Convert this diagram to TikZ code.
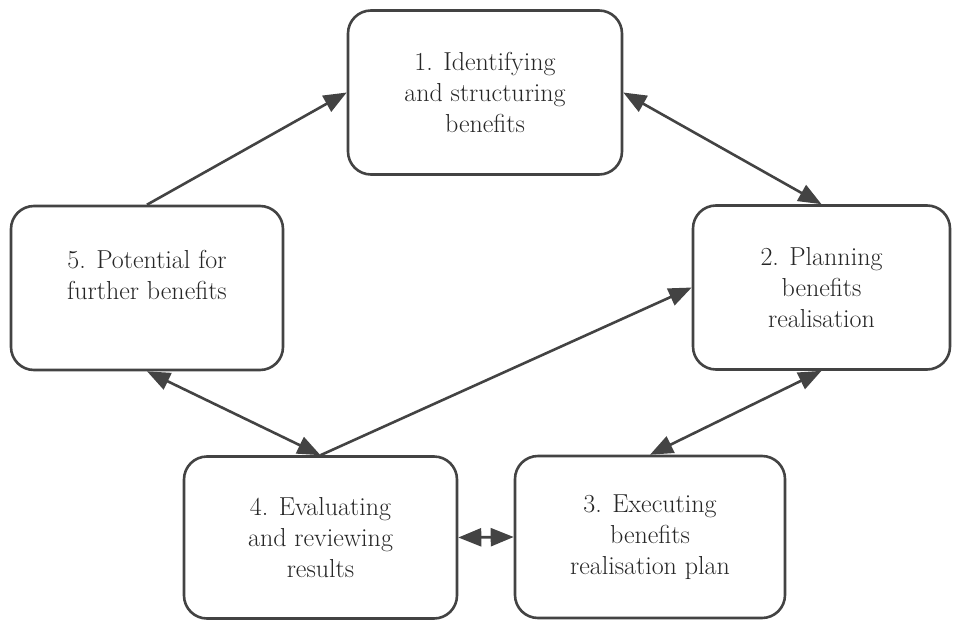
\documentclass[tikz,border=0pt]{standalone}
\usepackage{fontspec}
\usetikzlibrary{arrows.meta}
\definecolor{Edge}{HTML}{434343}
\definecolor{Ink}{HTML}{262626}

\begin{document}
\begin{tikzpicture}[x=1pt, y=-1pt,
    stage/.style={draw=Edge, line width=2.6pt, rounded corners=23pt, fill=white, text=Ink, align=center, inner sep=0pt, minimum height=164pt, font=\fontsize{26}{31}\selectfont},
    link/.style={draw=Edge, line width=2.6pt},
    >={Triangle[length=23pt, width=18pt]}]
            \useasboundingbox (0,0) rectangle (953,621);

            \node[stage, minimum width=274pt] (identify) at (485,92.5) {1. Identifying\\and structuring\\benefits};
            \node[stage, minimum width=257pt] (plan) at (821.5,287.5) {2. Planning\\benefits\\realisation};
            \node[stage, minimum width=270pt, minimum height=162pt] (execute) at (650,537) {3. Executing\\benefits\\realisation plan};
            \node[stage, minimum width=273pt, minimum height=162pt] (evaluate) at (320.5,537.5) {4. Evaluating\\and reviewing\\results};
            \node[stage, minimum width=272pt] (potential) at (147,288) {5. Potential for\\further benefits\\[-5pt]\mbox{}};

            \draw[link, ->] (potential.north) -- (identify.west);
            \draw[link, <->] (identify.east) -- (plan.north);
            \draw[link, <->] (plan.south) -- (execute.north);
            \draw[link, <->] (evaluate.east) -- (execute.west);
            \draw[link, ->] (evaluate.north) -- (plan.west);
            \draw[link, <->] (potential.south) -- (evaluate.north);
        \end{tikzpicture}
\end{document}
